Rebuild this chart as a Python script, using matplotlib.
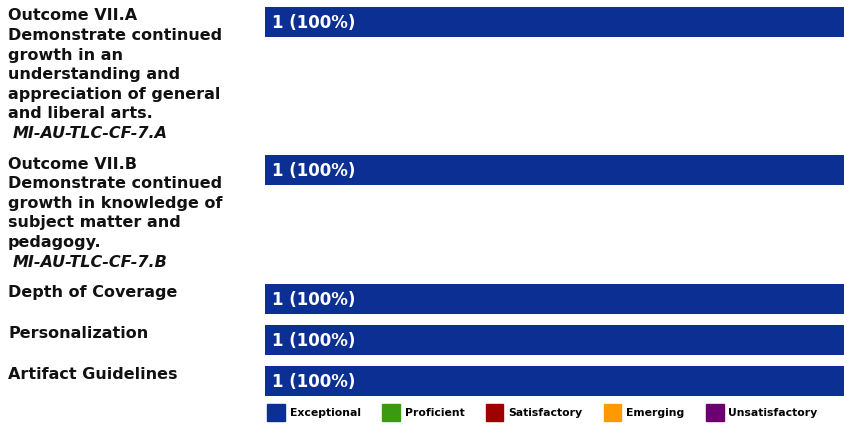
import matplotlib
matplotlib.use("Agg")
import matplotlib.pyplot as plt
from matplotlib.patches import Patch

# rubric rows: label lines, standard code (None if none), count and percent
labels = [
    "Outcome VII.A\nDemonstrate continued\ngrowth in an\nunderstanding and\nappreciation of general\nand liberal arts.",
    "Outcome VII.B\nDemonstrate continued\ngrowth in knowledge of\nsubject matter and\npedagogy.",
    "Depth of Coverage",
    "Personalization",
    "Artifact Guidelines",
]
codes = ["MI-AU-TLC-CF-7.A", "MI-AU-TLC-CF-7.B", None, None, None]
counts = [1, 1, 1, 1, 1]
percents = [100, 100, 100, 100, 100]

levels = ["Exceptional", "Proficient", "Satisfactory", "Emerging", "Unsatisfactory"]
level_colors = ["#0b2f92", "#3a9a12", "#a00000", "#ff9900", "#6b0070"]

W, H = 844, 426
fig = plt.figure(figsize=(W / 100, H / 100), dpi=100)

# bar area in pixel-like y coordinates, percent on x
bar_left = 265
ax = fig.add_axes([bar_left / W, 0, 1 - bar_left / W, 1])
ax.set_xlim(0, 100)
ax.set_ylim(H, 0)
ax.axis("off")

pitch = 19.6   # px per text line
bar_h = 30
gap = 11
top = 7
fs = 11.5

for lab, code, n, pct in zip(labels, codes, counts, percents):
    lines = lab.split("\n")
    ax.barh(top + bar_h / 2, pct, height=bar_h, color=level_colors[0])
    ax.text(1.2, top + bar_h / 2 + 1, "%d (%d%%)" % (n, pct), color="white",
            fontsize=12, fontweight="bold", va="center", ha="left")
    y = top + 9
    for line in lines:
        fig.text(8 / W, 1 - y / H, line, fontsize=fs, fontweight="bold",
                 va="center", ha="left", color="#111111")
        y += pitch
    if code:
        fig.text(13 / W, 1 - y / H, code, fontsize=fs, fontweight="bold",
                 style="italic", va="center", ha="left", color="#111111")
        y += pitch
    nlines = len(lines) + (1 if code else 0)
    top += max(nlines * pitch, bar_h) + gap

handles = [Patch(facecolor=c, edgecolor=c) for c in level_colors]
fig.legend(handles, levels, loc="upper left", ncol=5, frameon=False,
           bbox_to_anchor=(267 / W, 1 - 404 / H), borderaxespad=0, borderpad=0,
           prop={"weight": "bold", "size": 7.8},
           handlelength=1.65, handleheight=2.0, handletextpad=0.45,
           columnspacing=1.95)

fig.savefig("out.png", dpi=100)
